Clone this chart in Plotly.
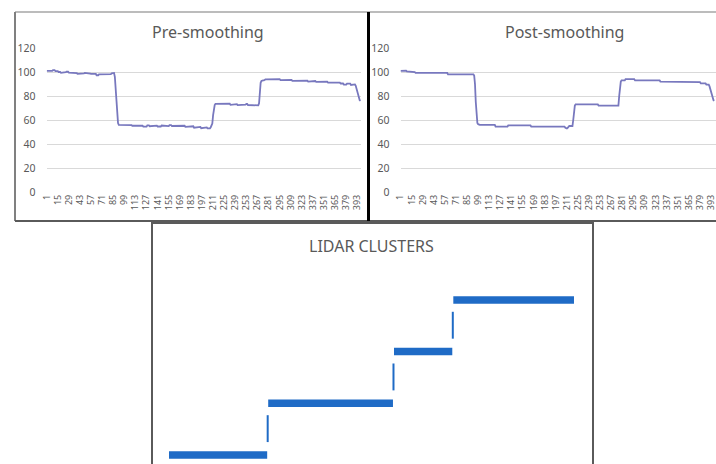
import plotly.graph_objects as go

# ---------------- data ----------------
# run-length pairs (value, number of consecutive samples)
pre_runs = [
    (101, 3), (100.5, 2), (101, 3), (101.5, 3), (100.8, 4),
    (100, 3), (99.3, 4), (99.8, 3), (100.2, 3), (99.5, 6),
    (99, 5), (98.5, 4), (98.8, 5), (99.2, 4), (98.6, 4),
    (98.4, 7), (97.3, 3),
    (98, 6), (97.8, 5), (98.2, 5), (98.8, 2), (99.2, 2),
    (96, 1), (86, 1), (72, 1), (61, 1), (57.5, 1),
    (56, 6), (55.5, 5), (55.8, 6), (55.2, 6),
    (54.6, 4), (55.2, 4), (54.5, 5), (55.6, 3), (54.8, 5), (55.3, 5),
    (54.6, 5), (55.4, 4), (54.9, 6), (55.7, 3), (55, 7),
    (54.6, 6), (55.2, 4), (54.3, 5), (54.8, 6),
    (53.6, 5), (54.2, 4), (53.2, 4), (53.8, 4), (53, 4),
    (54, 1), (55, 1), (57, 1), (64, 1), (70, 1), (72.5, 1),
    (73.5, 5), (73.8, 6), (73.2, 4), (73.6, 4),
    (72.6, 6), (73.2, 3), (72.4, 6), (72.8, 5), (73.4, 2), (72.5, 6), (72.2, 8),
    (74, 1), (84, 1), (91, 1), (92.5, 1),
    (93, 3), (93.8, 5), (94.2, 6), (93.7, 5), (94, 4),
    (93.3, 5), (92.8, 6), (93.4, 4), (92.6, 6), (92.9, 5), (92.3, 5), (92.7, 4),
    (92, 6), (92.5, 4), (91.8, 6), (91.4, 5), (91.9, 4), (91.2, 8),
    (90.6, 4), (91.2, 4), (90.4, 4), (89.5, 4), (90.3, 5), (89.2, 3), (89.7, 3),
    (88.5, 1), (86, 1), (83, 1), (80, 1), (77.5, 1), (76.5, 1), (76, 1),
]

post_runs = [
    (101, 3), (100.6, 2), (101.2, 3),
    (100.5, 5), (100, 6),
    (99.2, 41), (98, 33),
    (97, 1), (90, 1), (75, 1), (62, 1), (57.5, 1), (56.5, 1),
    (56, 21), (54.5, 16), (55.5, 29), (54.5, 43),
    (53.5, 1), (53, 2), (53.5, 1), (55, 6),
    (60, 1), (68, 1), (72, 1),
    (73, 29), (72, 26),
    (80, 1), (90, 1), (92, 1),
    (93, 5), (94, 12), (93, 32), (92, 23), (91.5, 28),
    (90.5, 7), (89.5, 4),
    (88, 1), (85.5, 1), (82.5, 1), (80, 1), (78, 1), (76.5, 1), (76, 1),
]

# cluster label per sample, run-length (cluster id, count)
cluster_runs = [(0, 97), (1, 123), (2, 58), (3, 119)]

y_ticks = [0, 20, 40, 60, 80, 100, 120]
x_ticks = list(range(1, 394, 14))

titles = ["Pre-smoothing", "Post-smoothing", "LIDAR CLUSTERS"]


def expand(runs):
    out = []
    for v, n in runs:
        out.extend([v] * n)
    return out


pre = expand(pre_runs)
post = expand(post_runs)
clusters = expand(cluster_runs)
idx_pre = list(range(1, len(pre) + 1))
idx_post = list(range(1, len(post) + 1))
idx_cl = list(range(1, len(clusters) + 1))

# ---------------- layout helpers (pixel -> paper) ----------------
W, H = 716, 464
px = lambda x: x / W
py = lambda y: 1 - y / H

LINE = "#7878BE"
GRID = "#D9D9D9"
TXT = "#595959"
BLUE = "#1F6BC6"
FONT = "Noto Sans"

fig = go.Figure()
fig.add_trace(go.Scatter(x=idx_pre, y=pre, mode="lines", line=dict(color=LINE, width=1.8),
                         xaxis="x", yaxis="y", hoverinfo="skip", showlegend=False))
fig.add_trace(go.Scatter(x=idx_post, y=post, mode="lines", line=dict(color=LINE, width=1.8),
                         xaxis="x2", yaxis="y2", hoverinfo="skip", showlegend=False))

# lidar clusters: one thick horizontal bar per cluster
ids = sorted(set(clusters))
for k in ids:
    xs = [i for i, c in zip(idx_cl, clusters) if c == k]
    fig.add_trace(go.Scatter(x=xs, y=[k] * len(xs), mode="lines",
                             line=dict(color=BLUE, width=7.5),
                             xaxis="x3", yaxis="y3", hoverinfo="skip", showlegend=False))
# thin connectors between consecutive clusters
cx, cy = [], []
for a, b in zip(ids[:-1], ids[1:]):
    last_a = max(i for i, c in zip(idx_cl, clusters) if c == a)
    first_b = min(i for i, c in zip(idx_cl, clusters) if c == b)
    xm = (last_a + first_b) / 2
    cx += [xm, xm, None]
    cy += [a + 0.25, a + 0.77, None]
fig.add_trace(go.Scatter(x=cx, y=cy, mode="lines", line=dict(color=BLUE, width=2),
                         xaxis="x3", yaxis="y3", hoverinfo="skip", showlegend=False))

step = 0.7924
common_x = dict(tickmode="array", tickvals=x_ticks, ticktext=[str(t) for t in x_ticks],
                tickangle=-90, tickfont=dict(family=FONT, size=9, color=TXT),
                showgrid=False, zeroline=False, showline=False, ticks="", automargin=False,
                ticklabeloverflow="allow")
common_y = dict(range=[0, 120], tickvals=y_ticks, tickfont=dict(family=FONT, size=10.5, color=TXT),
                showgrid=True, gridcolor=GRID, gridwidth=1, zeroline=False, showline=False,
                ticks="outside", ticklen=8, tickcolor="rgba(0,0,0,0)", automargin=False)

post_left = 400.5
fig.update_layout(
    template="none",
    width=W, height=H, margin=dict(l=0, r=0, t=0, b=0, autoexpand=False),
    paper_bgcolor="white", plot_bgcolor="white", showlegend=False,
    xaxis=dict(domain=[px(46.7), px(361)], range=[1, 1 + (361 - 46.7) / step], anchor="y", **common_x),
    yaxis=dict(domain=[py(192), py(48)], anchor="x", **common_y),
    xaxis2=dict(domain=[px(post_left), 1.0], range=[1, 1 + (716 - post_left) / step], anchor="y2",
                **common_x),
    yaxis2=dict(domain=[py(192), py(48)], anchor="x2", **common_y),
    xaxis3=dict(domain=[px(155), px(590)], range=[-12.69, 412.65], anchor="y3",
                visible=False, automargin=False),
    yaxis3=dict(domain=[0, py(262)], range=[-0.174, 3.733], anchor="x3", visible=False,
                automargin=False),
)

# titles
for text, xx, yy in [(titles[0], 208, 32), (titles[1], 564, 32), (titles[2], 372, 246)]:
    fig.add_annotation(text=text, x=px(xx), y=py(yy), xref="paper", yref="paper",
                       showarrow=False, xanchor="center", yanchor="middle",
                       font=dict(family=FONT, size=16, color=TXT))

# panel frames
def seg(x0, y0, x1, y1, color, width):
    fig.add_shape(type="line", xref="paper", yref="paper",
                  x0=px(x0), y0=py(y0), x1=px(x1), y1=py(y1),
                  line=dict(color=color, width=width))

seg(15, 12, 716, 12, "#A6A6A6", 1.5)       # top border of both upper panels
seg(15, 12, 15, 221, "#808080", 2)          # left border
seg(15, 221, 716, 221, "#5A5A5A", 2)        # bottom border of upper panels
seg(368.5, 12, 368.5, 221, "#000000", 3)    # separator between upper panels
seg(152, 223, 593, 223, "#5A5A5A", 2)       # lidar panel top
seg(152, 221, 152, 464, "#5A5A5A", 2)       # lidar panel left
seg(593, 221, 593, 464, "#5A5A5A", 2)       # lidar panel right

fig.write_html("out.html", config={"displayModeBar": False},
               post_script="document.body.style.margin='0px';document.body.style.overflow='hidden';")
